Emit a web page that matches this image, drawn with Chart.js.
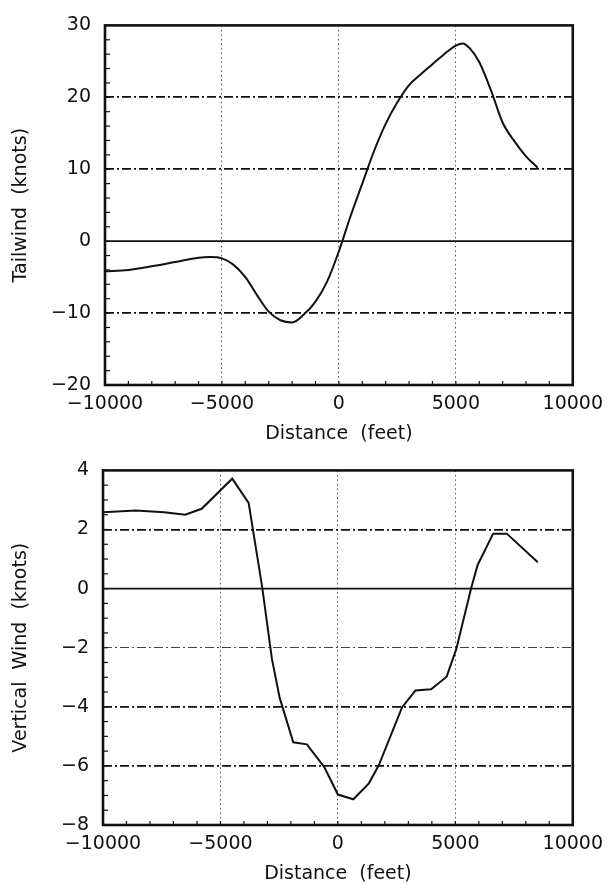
<!DOCTYPE html>
<html>
<head>
<meta charset="utf-8">
<script src="https://cdn.jsdelivr.net/npm/chart.js@4"></script>
<style>
  html, body { margin:0; padding:0; background:#fff; }
  body { width:611px; height:885px; position:relative; overflow:hidden; }
  .box { position:absolute; left:0; width:611px; }
  #boxTop    { top:0;   height:445px; }
  #boxBottom { top:445px; height:440px; }
</style>
</head>
<body>
<div class="box" id="boxTop"><canvas id="chartTop" width="611" height="445"></canvas></div>
<div class="box" id="boxBottom"><canvas id="chartBottom" width="611" height="440"></canvas></div>
<script>
// ── Dati ───────────────────────────────────────
const distTop   = [-10000, -9000, -8000, -7000, -6000, -5500, -5000, -4500, -4000, -3500, -3000, -2500, -2000, -1500, -1000, -500, 0, 500, 1000, 1500, 2000, 2500, 3000, 3500, 4000, 4500, 5000, 5300, 5600, 6000, 6500, 7000, 7500, 8000, 8500];
const tailwind  = [-4.2, -4.0, -3.5, -2.9, -2.3, -2.2, -2.4, -3.3, -5.0, -7.5, -9.8, -11.0, -11.3, -10.2, -8.4, -5.6, -1.4, 3.5, 8.0, 12.5, 16.3, 19.3, 21.7, 23.2, 24.6, 26.0, 27.2, 27.5, 26.8, 24.9, 21.0, 16.5, 13.9, 11.8, 10.2];

const distBottom   = [-10000, -8600, -7400, -6500, -5800, -4500, -3800, -3220, -2810, -2480, -1900, -1320, -580, 0, 660, 1320, 1740, 2730, 3300, 3970, 4630, 5040, 5670, 5950, 6610, 7190, 8510];
const verticalWind = [2.58, 2.64, 2.58, 2.5, 2.7, 3.72, 2.9, 0.03, -2.37, -3.69, -5.2, -5.27, -6.04, -6.97, -7.13, -6.59, -5.98, -4.02, -3.45, -3.41, -2.98, -2.05, 0.0, 0.8, 1.86, 1.86, 0.89];

const xTicks      = [-10000, -5000, 0, 5000, 10000];
const yTicksTop   = [-20, -10, 0, 10, 20, 30];
const yTicksBot   = [-8, -6, -4, -2, 0, 2, 4];

// ── Stile comune ───────────────────────────────
const FONT = { family: "'DejaVu Sans', sans-serif", size: 19 };
const INK  = '#111';

const fmtTick = v => v < 0 ? '\u2212' + Math.abs(v) : String(v);

// cornice, linea dello zero, tacche secondarie
const framePlugin = {
    id: 'frame',
    beforeDatasetsDraw(chart, args, opts) {
        const { ctx, chartArea: a, scales: { x, y } } = chart;
        ctx.save();
        // zero solido
        ctx.strokeStyle = INK;
        ctx.lineWidth = 1.8;
        ctx.setLineDash([]);
        const y0 = y.getPixelForValue(0);
        ctx.beginPath(); ctx.moveTo(a.left, y0); ctx.lineTo(a.right, y0); ctx.stroke();
        // tacche minori sull'asse y
        ctx.lineWidth = 1.2;
        for (let v = y.min; v <= y.max; v += opts.minorY) {
            const py = y.getPixelForValue(v);
            ctx.beginPath(); ctx.moveTo(a.left, py); ctx.lineTo(a.left + 5, py); ctx.stroke();
        }
        // tacche minori sull'asse x
        for (let v = x.min; v <= x.max; v += 1000) {
            const px = x.getPixelForValue(v);
            ctx.beginPath(); ctx.moveTo(px, a.bottom); ctx.lineTo(px, a.bottom - 4); ctx.stroke();
        }
        // cornice
        ctx.lineWidth = 2.6;
        ctx.strokeRect(a.left, a.top, a.right - a.left, a.bottom - a.top);
        ctx.restore();
    }
};

function makeChart(canvasId, xs, ys, yTicks, yTitle, pad, minorY, tension, dimValues) {
    return new Chart(document.getElementById(canvasId), {
        type: 'line',
        data: {
            datasets: [{
                data: xs.map((d, i) => ({ x: d, y: ys[i] })),
                borderColor: INK,
                borderWidth: 2,
                pointRadius: 0,
                tension: tension,
                cubicInterpolationMode: tension ? 'monotone' : 'default',
                fill: false
            }]
        },
        options: {
            responsive: false,
            devicePixelRatio: 1,
            animation: false,
            layout: { padding: pad },
            plugins: { legend: { display: false }, tooltip: { enabled: false }, frame: { minorY } },
            scales: {
                x: {
                    type: 'linear',
                    min: xTicks[0], max: xTicks[xTicks.length - 1],
                    afterBuildTicks: s => { s.ticks = xTicks.map(v => ({ value: v })); },
                    afterFit: s => { s.height = 60; },
                    ticks: { callback: fmtTick, font: FONT, color: INK, padding: 8, maxRotation: 0 },
                    grid: {
                        drawTicks: false,
                        lineWidth: 1,
                        color: c => (c.tick && Math.abs(c.tick.value) === 10000) ? 'rgba(0,0,0,0)' : '#555'
                    },
                    border: { display: false, dash: [1.5, 3] },
                    title: { display: true, text: 'Distance  (feet)', font: FONT, color: INK, padding: { top: 2, bottom: 0 } }
                },
                y: {
                    min: yTicks[0], max: yTicks[yTicks.length - 1],
                    afterBuildTicks: s => { s.ticks = yTicks.map(v => ({ value: v })); },
                    afterFit: s => { s.width = pad.yWidth; },
                    ticks: { callback: fmtTick, font: FONT, color: INK, padding: 14 },
                    grid: {
                        drawTicks: false,
                        lineWidth: c => (c.tick && dimValues.includes(c.tick.value)) ? 1 : 1.7,
                        color: c => {
                            if (!c.tick) return INK;
                            const v = c.tick.value;
                            if (v === 0 || v === yTicks[0] || v === yTicks[yTicks.length - 1]) return 'rgba(0,0,0,0)';
                            return dimValues.includes(v) ? '#444' : INK;
                        }
                    },
                    border: { display: false, dash: [9, 3, 2, 3] },
                    title: { display: true, text: yTitle, font: FONT, color: INK, padding: { top: 10, bottom: 0 } }
                }
            }
        },
        plugins: [framePlugin]
    });
}

makeChart('chartTop', distTop, tailwind, yTicksTop, 'Tailwind  (knots)',
    { top: 20, right: 32, left: 0, bottom: 0, yWidth: 105 }, 2, 0.4, []);
makeChart('chartBottom', distBottom, verticalWind, yTicksBot, 'Vertical  Wind  (knots)',
    { top: 16, right: 34, left: 0, bottom: 0, yWidth: 103 }, 0.5, 0, [-2]);
</script>
</body>
</html>
